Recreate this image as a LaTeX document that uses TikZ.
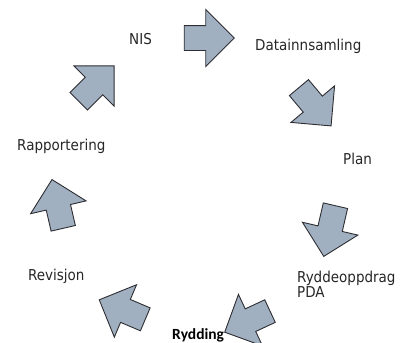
\documentclass[tikz,border=0pt]{standalone}
\usepackage{fontspec}
\setmainfont{DejaVu Sans Condensed}
\newfontfamily\boldlabelfont{Carlito}
\usepackage{xcolor}
\usepackage{tikz}
\usetikzlibrary{shapes.arrows}

\definecolor{arrowfill}{RGB}{161,176,193}
\definecolor{arrowline}{RGB}{45,45,50}

\begin{document}
\begin{tikzpicture}[
    x=1pt, y=-1pt,
    label/.style={inner sep=0pt, anchor=base west, text=black!85, font=\fontsize{15}{15}\selectfont},
    blockarrow/.style={single arrow, draw=arrowline, line width=0.9pt, fill=arrowfill, inner sep=12pt, single arrow head extend=16pt, single arrow tip angle=90, minimum height=50pt}
]
\useasboundingbox (0,0) rectangle (405,343);

% the steps
\node[label] (nis) at (129,44) {NIS};
\node[label] (data) at (255,50) {Datainnsamling};
\node[label] (plan) at (343,164) {Plan};
\node[label, anchor=north west, align=left] (rydde) at (297,271) {Ryddeoppdrag\\PDA};
\node[label, text=black, font=\boldlabelfont\bfseries\fontsize{15.5}{15}\selectfont] (rydd) at (172,339) {Rydding};
\node[label] (revis) at (28,280) {Revisjon};
\node[label] (rapp) at (17,150) {Rapportering};

% the arrows between them
\node[blockarrow, rotate=0] (a1) at (203,38) {};
\node[blockarrow, rotate=-50] (a2) at (311,102) {};
\node[blockarrow, rotate=-103, minimum height=52pt] (a3) at (331,225) {};
\node[blockarrow, rotate=-155] (a4) at (253,319) {};
\node[blockarrow, rotate=157] (a5) at (128,312) {};
\node[blockarrow, rotate=103] (a6) at (59,210) {};
\node[blockarrow, rotate=45] (a7) at (92,88) {};
\end{tikzpicture}
\end{document}
